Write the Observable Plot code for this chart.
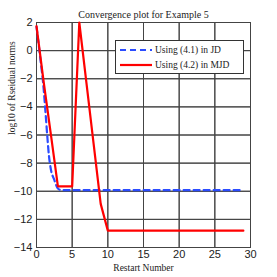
<!DOCTYPE html>
<html><head><meta charset="utf-8">
<script src="https://cdn.jsdelivr.net/npm/d3@7"></script>
<script src="https://cdn.jsdelivr.net/npm/@observablehq/plot@0.6"></script>
<style>
body{margin:0;background:#fff;}
#wrap{position:relative;width:277px;height:277px;}
#legend{position:absolute;left:115px;top:40px;width:129px;height:34px;border:1px solid #333;background:#fff;box-sizing:border-box;font-family:"Liberation Serif","DejaVu Serif",serif;font-size:9.5px;color:#222;}
#legend div{position:absolute;left:3px;height:12px;display:flex;align-items:center;}
#legend svg{margin-right:2px;}
</style>
</head><body>
<div id="wrap"></div>
<script>
const title = "Convergence plot for Example 5";
const xLabel = "Restart Number";
const yLabel = "log10 of Rseidual norms";
const xTicks = [0, 5, 10, 15, 20, 25, 30];
const yTicks = [-14, -12, -10, -8, -6, -4, -2, 0, 2];

const jdX = [0, 0.5, 1, 1.25, 1.5, 1.75, 2, 2.5, 3, 3.5, 29];
const jdY = [1.7, -0.4, -2.7, -4.3, -6.0, -7.5, -8.4, -9.2, -9.8, -9.92, -9.92];

const mjdX = [0, 1, 2, 3, 4, 5, 6, 7, 8, 9, 10, 29];
const mjdY = [1.75, -2.2, -5.9, -9.65, -9.65, -9.65, 2.0, -2.3, -6.6, -10.9, -12.8, -12.8];

const seriesNames = ["Using (4.1) in JD", "Using (4.2) in MJD"];
const seriesColors = ["#2b4cff", "#ff0000"];

const jd = jdX.map((x, i) => ({x, y: jdY[i]}));
const mjd = mjdX.map((x, i) => ({x, y: mjdY[i]}));

const chart = Plot.plot({
  width: 277, height: 277,
  marginLeft: 36, marginRight: 27, marginTop: 22, marginBottom: 30,
  style: {fontFamily: "'Liberation Sans', Arial, sans-serif", fontSize: "11px", color: "#222", background: "#fff"},
  x: {domain: [0, 30], ticks: xTicks, tickSize: 0, label: null},
  y: {domain: [-14, 2], ticks: yTicks, tickSize: 0, label: null},
  marks: [
    Plot.frame({stroke: "#444", strokeWidth: 1}),
    Plot.tickX(xTicks, {x: d => d, y1: -14, y2: -13.75, stroke: "#444"}),
    Plot.tickX(xTicks, {x: d => d, y1: 1.75, y2: 2, stroke: "#444"}),
    Plot.tickY(yTicks, {y: d => d, x1: 0, x2: 0.45, stroke: "#444"}),
    Plot.tickY(yTicks, {y: d => d, x1: 29.55, x2: 30, stroke: "#444"}),
    Plot.line(jd, {x: "x", y: "y", stroke: seriesColors[0], strokeWidth: 2.2, strokeDasharray: "6,4", curve: "monotone-x"}),
    Plot.line(mjd, {x: "x", y: "y", stroke: seriesColors[1], strokeWidth: 2.2}),
    Plot.axisX({ticks: xTicks, tickSize: 0, tickPadding: 3, label: null}),
    Plot.axisY({ticks: yTicks, tickSize: 0, tickPadding: 4, label: null, tickFormat: d => d < 0 ? "\u2212" + Math.abs(d) : String(d)}),
    Plot.text([title], {frameAnchor: "top", dy: -12, fontFamily: "'Liberation Serif', serif", fontSize: 10, fill: "#222"}),
    Plot.text([xLabel], {frameAnchor: "bottom", dy: 23, fontFamily: "'Liberation Serif', serif", fontSize: 9.5, fill: "#222"}),
    Plot.text([yLabel], {frameAnchor: "left", dx: -25, rotate: -90, fontFamily: "'Liberation Serif', serif", fontSize: 9.5, fill: "#222"})
  ]
});
const wrap = document.getElementById("wrap");
wrap.appendChild(chart);

const legend = document.createElement("div");
legend.id = "legend";
seriesNames.forEach((name, i) => {
  const row = document.createElement("div");
  row.style.top = (3 + i * 15) + "px";
  row.innerHTML = `<svg width="34" height="6"><line x1="1" y1="3" x2="33" y2="3" stroke="${seriesColors[i]}" stroke-width="2.2" ${i === 0 ? 'stroke-dasharray="6,4"' : ''}/></svg><span>${name}</span>`;
  legend.appendChild(row);
});
wrap.appendChild(legend);
</script>
</body></html>
